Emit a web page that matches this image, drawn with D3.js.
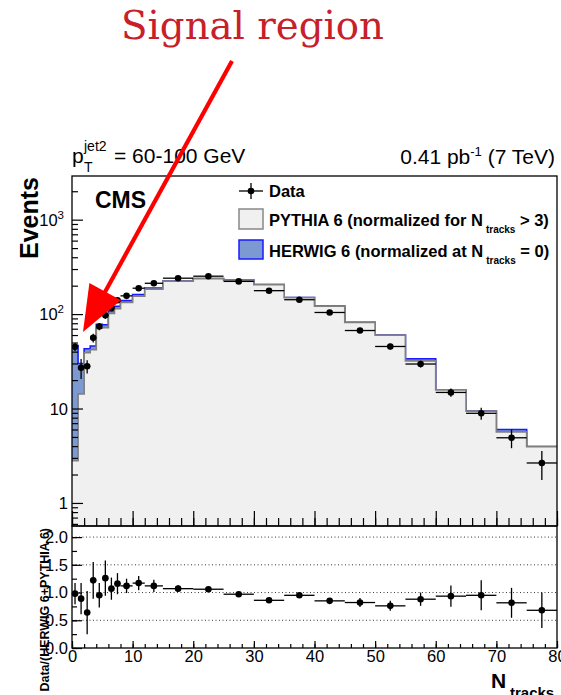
<!DOCTYPE html>
<html>
<head>
<meta charset="utf-8">
<title>CMS N_tracks, signal region</title>
<script src="https://d3js.org/d3.v7.min.js"></script>
<style>
  body { margin: 0; background: #fff; }
  svg { display: block; font-family: "Liberation Sans", Arial, Helvetica, sans-serif; }
</style>
</head>
<body>
<svg width="561" height="695"></svg>
<script>
// bin edges in N_tracks (unit bins up to 8, then wider)
const binEdges = [0, 1, 2, 3, 4, 5, 6, 7, 8, 10, 12, 15, 20, 25, 30, 35, 40, 45, 50, 55, 60, 65, 70, 75, 80];

// events per bin
const dataEvents = [45, 27, 28, 56, 74, 97, 116, 140, 156, 188, 212, 240, 252, 222, 177, 142, 104, 67, 45.4, 29.6, 14.8, 8.9, 4.9, 2.65];
const dataErr    = [4.5, 6.5, 4.5, 6, 6.5, 8, 8, 9, 8, 9, 9, 9, 9, 8, 7, 6, 5, 4, 3.2, 2.4, 1.5, 1.3, 1.1, 0.9];
const pythiaEvents = [2.8, 14.3, 39, 42, 71, 72, 102, 114, 133, 155, 184, 223, 237, 228.4, 205.5, 149.6, 121.7, 81.8, 59.85, 32, 15.75, 9.37, 5.65, 3.94];
const herwigEvents = [43.7, 15.7, 4, 4, 7, 5, 6, 7, 6, 6, 5, 1, 0.8, 0.6, 0.5, 0.4, 0.3, 0.2, 0.15, 1.6, 0.05, 0.03, 0.35, 0.01];

// Data/(HERWIG 6+PYTHIA 6)
const ratioVals = [0.98, 0.89, 0.64, 1.22, 0.95, 1.26, 1.07, 1.16, 1.12, 1.17, 1.12, 1.07, 1.06, 0.97, 0.86, 0.95, 0.85, 0.82, 0.76, 0.88, 0.935, 0.95, 0.815, 0.68];
const ratioErr  = [0.19, 0.28, 0.39, 0.33, 0.22, 0.32, 0.2, 0.19, 0.13, 0.13, 0.11, 0.06, 0.05, 0.04, 0.04, 0.04, 0.05, 0.08, 0.09, 0.12, 0.19, 0.27, 0.27, 0.32];

const xTicks = [0, 10, 20, 30, 40, 50, 60, 70, 80];
const logTicks = [1, 10, 100, 1000];
const ratioTicks = [0, 0.5, 1, 1.5, 2];

const svg = d3.select("svg");
const L = 72, R = 557, T = 176, M = 526, B = 648;

const x = d3.scaleLinear().domain([0, 80]).range([L, R]);
const y = d3.scaleLog().domain([0.57, 2900]).range([M, T]);
const yr = d3.scaleLinear().domain([0, 2.2]).range([B, M]);

const bins = binEdges.slice(0, -1).map((lo, i) => ({
  lo, hi: binEdges[i + 1],
  data: dataEvents[i], err: dataErr[i],
  py: pythiaEvents[i], tot: pythiaEvents[i] + herwigEvents[i],
  r: ratioVals[i], re: ratioErr[i]
}));
const steps = acc => bins.flatMap(b => [[b.lo, acc(b)], [b.hi, acc(b)]]);

svg.append("clipPath").attr("id", "mainclip")
  .append("rect").attr("x", L).attr("y", T).attr("width", R - L).attr("height", M - T);

const main = svg.append("g").attr("clip-path", "url(#mainclip)");
const area = d3.area().x(d => x(d[0])).y0(M).y1(d => y(d[1]));
const line = d3.line().x(d => x(d[0])).y(d => y(d[1]));

// stack: HERWIG on top of PYTHIA, sum drawn first
main.append("path").attr("d", area(steps(b => b.tot))).attr("fill", "#7d99d2");
main.append("path").attr("d", line(steps(b => b.tot))).attr("fill", "none").attr("stroke", "#1a1aff").attr("stroke-width", 1.6);
main.append("path").attr("d", area(steps(b => b.py))).attr("fill", "#f0f0f0");
main.append("path").attr("d", line(steps(b => b.py))).attr("fill", "none").attr("stroke", "#808080").attr("stroke-width", 1.7);

// data points
const pts = main.selectAll("g.pt").data(bins).join("g").attr("class", "pt");
pts.append("line")
  .attr("x1", d => x(d.lo)).attr("x2", d => x(d.hi))
  .attr("y1", d => y(d.data)).attr("y2", d => y(d.data))
  .attr("stroke", "#000").attr("stroke-width", 1.3);
pts.append("line")
  .attr("x1", d => x((d.lo + d.hi) / 2)).attr("x2", d => x((d.lo + d.hi) / 2))
  .attr("y1", d => y(d.data - d.err)).attr("y2", d => y(d.data + d.err))
  .attr("stroke", "#000").attr("stroke-width", 1.3);
pts.append("circle")
  .attr("cx", d => x((d.lo + d.hi) / 2)).attr("cy", d => y(d.data)).attr("r", 3.3);

// ratio panel
const rp = svg.append("g");
rp.selectAll("line.grid").data(ratioTicks.filter(v => v > 0)).join("line")
  .attr("x1", L).attr("x2", R).attr("y1", d => yr(d)).attr("y2", d => yr(d))
  .attr("stroke", "#222").attr("stroke-width", 0.9).attr("stroke-dasharray", "1,2.5");
const rpts = rp.selectAll("g.rpt").data(bins).join("g");
rpts.append("line")
  .attr("x1", d => x(d.lo)).attr("x2", d => x(d.hi))
  .attr("y1", d => yr(d.r)).attr("y2", d => yr(d.r))
  .attr("stroke", "#000").attr("stroke-width", 1.3);
rpts.append("line")
  .attr("x1", d => x((d.lo + d.hi) / 2)).attr("x2", d => x((d.lo + d.hi) / 2))
  .attr("y1", d => yr(d.r - d.re)).attr("y2", d => yr(d.r + d.re))
  .attr("stroke", "#000").attr("stroke-width", 1.3);
rpts.append("circle")
  .attr("cx", d => x((d.lo + d.hi) / 2)).attr("cy", d => yr(d.r)).attr("r", 3.3);

// axes (ticks pointing inward)
function clean(g) {
  g.select(".domain").remove();
  g.selectAll("line").attr("stroke", "#000").attr("stroke-width", 1.2);
  g.attr("font-family", null).attr("font-size", null);
}
svg.append("g").attr("transform", `translate(0,${M})`)
  .call(d3.axisBottom(x).tickValues(xTicks).tickSize(-15).tickFormat("")).call(clean);
svg.append("g").attr("transform", `translate(0,${M})`)
  .call(d3.axisBottom(x).tickValues(d3.range(0, 81, 2)).tickSize(-8).tickFormat("")).call(clean);
svg.append("g").attr("transform", `translate(0,${B})`)
  .call(d3.axisBottom(x).tickValues(d3.range(0, 81, 2)).tickSize(-4).tickFormat("")).call(clean);
svg.append("g").attr("transform", `translate(0,${B})`)
  .call(d3.axisBottom(x).tickValues(xTicks).tickSize(-7).tickPadding(2.5)).call(clean)
  .selectAll("text").attr("font-size", 16.5).attr("fill", "#000");

svg.append("g").attr("transform", `translate(${L},0)`)
  .call(d3.axisLeft(y).tickValues(logTicks).tickSize(-11).tickFormat("")).call(clean);
svg.append("g").attr("transform", `translate(${L},0)`)
  .call(d3.axisLeft(y).tickValues(y.ticks().filter(v => !logTicks.includes(v))).tickSize(-6).tickFormat("")).call(clean);
svg.append("g").attr("transform", `translate(${L},0)`)
  .call(d3.axisLeft(yr).tickValues(d3.range(0, 2.21, 0.25)).tickSize(-5).tickFormat("")).call(clean);
svg.append("g").attr("transform", `translate(${L},0)`)
  .call(d3.axisLeft(yr).tickValues(ratioTicks).tickSize(-10).tickPadding(4)).call(clean)
  .selectAll("text").attr("font-size", 16.5).attr("fill", "#000");

// log labels 1, 10, 10^2, 10^3
const ylab = svg.append("g").attr("font-size", 16.5).attr("text-anchor", "end");
logTicks.forEach(v => {
  const t = ylab.append("text").attr("x", v >= 100 ? 64 : 68).attr("y", y(v) + 6);
  if (v >= 100) {
    t.text("10");
    t.append("tspan").attr("dy", -7).attr("font-size", 11.5).text(Math.log10(v));
  } else {
    t.text(v);
  }
});

// frames
svg.append("rect").attr("x", L).attr("y", T).attr("width", R - L).attr("height", M - T)
  .attr("fill", "none").attr("stroke", "#000").attr("stroke-width", 1.3);
svg.append("rect").attr("x", L).attr("y", M).attr("width", R - L).attr("height", B - M)
  .attr("fill", "none").attr("stroke", "#000").attr("stroke-width", 1.3);

// titles
svg.append("text").attr("transform", "translate(38,177) rotate(-90)")
  .attr("text-anchor", "end").attr("font-weight", "bold").attr("font-size", 25).text("Events");
svg.append("text").attr("transform", "translate(49,528) rotate(-90)")
  .attr("text-anchor", "end").attr("font-weight", "bold").attr("font-size", 12.5).text("Data/(HERWIG 6+PYTHIA 6)");
svg.append("text").attr("x", 491).attr("y", 688).attr("font-weight", "bold").attr("font-size", 21).text("N");
svg.append("text").attr("x", 510).attr("y", 698).attr("font-weight", "bold").attr("font-size", 15).text("tracks");

// header
svg.append("text").attr("x", 72).attr("y", 163).attr("font-size", 21).text("p");
svg.append("text").attr("x", 84).attr("y", 172).attr("font-size", 14).text("T");
svg.append("text").attr("x", 84).attr("y", 151).attr("font-size", 14).text("jet2");
svg.append("text").attr("x", 114).attr("y", 163).attr("font-size", 21).text("= 60-100 GeV");
const lumi = svg.append("text").attr("x", 555).attr("y", 164).attr("font-size", 21).attr("text-anchor", "end");
lumi.append("tspan").text("0.41 pb");
lumi.append("tspan").attr("dy", -8).attr("font-size", 13).text("-1");
lumi.append("tspan").attr("dy", 8).text(" (7 TeV)");

svg.append("text").attr("x", 95).attr("y", 208).attr("font-weight", "bold").attr("font-size", 23).text("CMS");

// legend
const leg = svg.append("g").attr("font-weight", "bold").attr("font-size", 16.5);
leg.append("line").attr("x1", 239).attr("x2", 263).attr("y1", 191).attr("y2", 191).attr("stroke", "#000").attr("stroke-width", 1.3);
leg.append("line").attr("x1", 251).attr("x2", 251).attr("y1", 183).attr("y2", 199).attr("stroke", "#000").attr("stroke-width", 1.3);
leg.append("circle").attr("cx", 251).attr("cy", 191).attr("r", 3.3);
leg.append("text").attr("x", 269).attr("y", 197).text("Data");
leg.append("rect").attr("x", 239).attr("y", 209).attr("width", 24).attr("height", 20)
  .attr("fill", "#f0f0f0").attr("stroke", "#888").attr("stroke-width", 1.5);
const l2 = leg.append("text").attr("x", 269).attr("y", 226);
l2.append("tspan").text("PYTHIA 6 (normalized for N");
l2.append("tspan").attr("dx", 3).attr("dy", 7).attr("font-size", 10).text("tracks");
l2.append("tspan").attr("dy", -7).text(" > 3)");
leg.append("rect").attr("x", 239).attr("y", 240).attr("width", 24).attr("height", 19)
  .attr("fill", "#7d99d2").attr("stroke", "#1a1aff").attr("stroke-width", 1.5);
const l3 = leg.append("text").attr("x", 269).attr("y", 257);
l3.append("tspan").text("HERWIG 6 (normalized at N");
l3.append("tspan").attr("dx", 3).attr("dy", 7).attr("font-size", 10).text("tracks");
l3.append("tspan").attr("dy", -7).text(" = 0)");

// annotation
svg.append("text").attr("x", 121).attr("y", 39).attr("font-family", "'DejaVu Serif', 'Liberation Serif', serif")
  .attr("font-size", 40).attr("fill", "#c8202a").attr("textLength", 263).attr("lengthAdjust", "spacingAndGlyphs")
  .text("Signal region");
const tip = [83, 332], tail = [232, 61];
const dx = tip[0] - tail[0], dy = tip[1] - tail[1], len = Math.hypot(dx, dy);
const ux = dx / len, uy = dy / len, hl = 46, hw = 18;
const bx = tip[0] - hl * ux, by = tip[1] - hl * uy;
svg.append("line").attr("x1", tail[0]).attr("y1", tail[1]).attr("x2", bx + 4 * ux).attr("y2", by + 4 * uy)
  .attr("stroke", "#ff0000").attr("stroke-width", 4.2);
svg.append("path")
  .attr("d", `M${tip[0]},${tip[1]}L${bx - hw * uy},${by + hw * ux}L${bx + hw * uy},${by - hw * ux}Z`)
  .attr("fill", "#ff0000");
</script>
</body>
</html>
